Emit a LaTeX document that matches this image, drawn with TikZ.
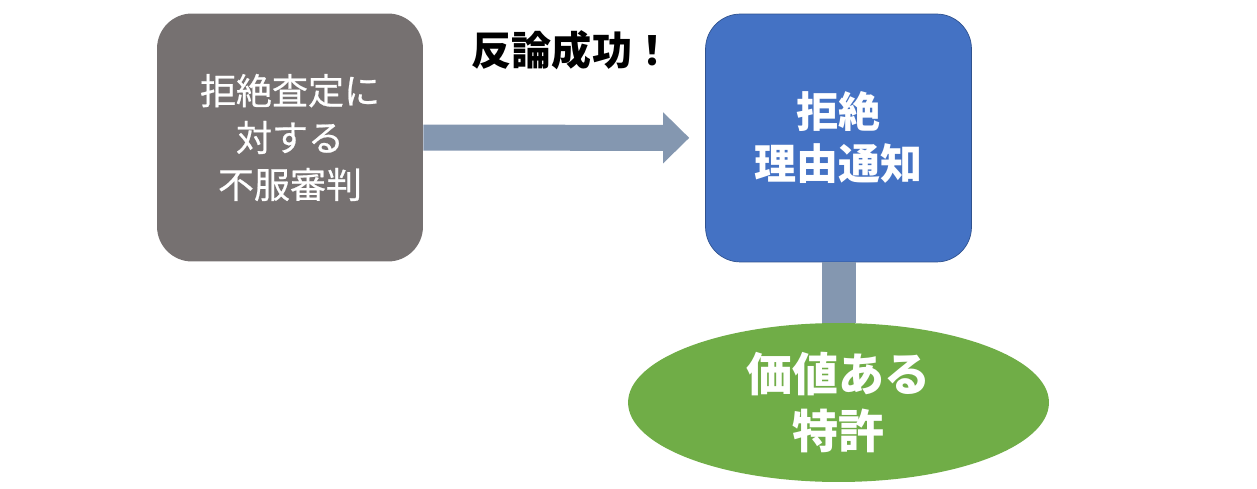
\documentclass[tikz,border=0pt]{standalone}
\usepackage{fontspec}
\setmainfont{Noto Sans CJK JP}
\newfontfamily\medfont[FakeBold=0.6]{Noto Sans CJK JP}
\usetikzlibrary{shapes.geometric,arrows.meta}
\definecolor{boxgray}{HTML}{767171}
\definecolor{boxblue}{HTML}{4472C4}
\definecolor{boxedge}{HTML}{2F528F}
\definecolor{barblue}{HTML}{8497B0}
\definecolor{ovalgreen}{HTML}{70AD47}
\begin{document}
\begin{tikzpicture}[x=0.02cm,y=-0.02cm]
		\tikzstyle{every node}+=[inner sep=0pt]
		\tikzstyle{block}=[rectangle, rounded corners=0.7cm, minimum width=5.32cm, minimum height=4.96cm, text=white, align=center]
		\tikzstyle{oval}=[ellipse, fill=ovalgreen, minimum width=8.42cm, minimum height=3.18cm, text=white, align=center]
		\tikzstyle{bar}=[barblue, line width=0.52cm]
		\useasboundingbox (0,0) rectangle (1257,489);
		\node [block, fill=boxgray, font=\medfont\fontsize{20.5}{26.7}\selectfont] (fufuku) at (290,137.5) {拒絶査定に\\対する\\不服審判};
		\node [block, fill=boxblue, draw=boxedge, font=\bfseries\fontsize{23.9}{29.6}\selectfont] (kyozetsu) at (838.5,138) {拒絶\\理由通知};
		\node [oval, font=\bfseries\fontsize{26.2}{32.4}\selectfont] (tokkyo) at (838.5,402.5) {価値ある\\特許};
		\node [font=\bfseries\fontsize{22.8}{27}\selectfont] (hanron) at (572,50) {反論成功！};
		\draw [bar, -{Triangle[length=0.52cm, width=1.02cm, line width=0pt]}, shorten >=0.32cm] (fufuku) -- (kyozetsu);
		\draw [bar, line width=0.68cm] (kyozetsu) -- (tokkyo);
\end{tikzpicture}
\end{document}
